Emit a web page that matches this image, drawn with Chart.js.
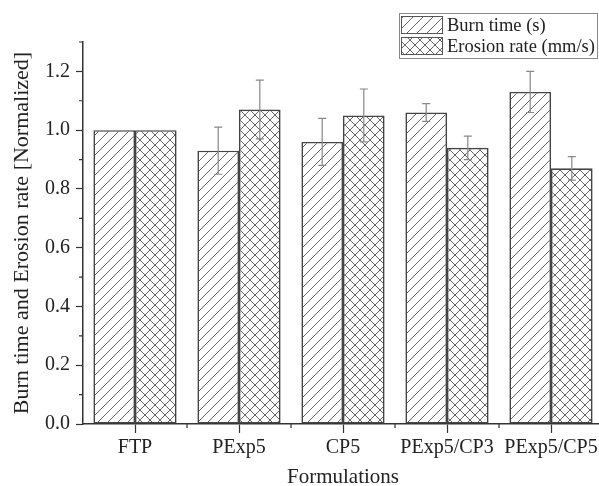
<!DOCTYPE html>
<html>
<head>
<meta charset="utf-8">
<script src="https://cdn.jsdelivr.net/npm/chart.js@4.4.1/dist/chart.umd.min.js"></script>
<style>
  html, body { margin: 0; padding: 0; background: #fff; overflow: hidden; }
  #wrap { width: 610px; height: 486px; }
</style>
</head>
<body>
<div id="wrap"><canvas id="chart" width="610" height="486"></canvas></div>
<script>
const categories = ['FTP', 'PExp5', 'CP5', 'PExp5/CP3', 'PExp5/CP5'];
const burnTime = [1.00, 0.93, 0.96, 1.06, 1.13];
const burnTimeErr = [0, 0.08, 0.08, 0.03, 0.07];
const erosionRate = [1.00, 1.07, 1.05, 0.94, 0.87];
const erosionRateErr = [0, 0.10, 0.09, 0.04, 0.04];
const yTicks = [0, 0.2, 0.4, 0.6, 0.8, 1.0, 1.2];

const serif = '"Liberation Serif", "DejaVu Serif", serif';

// hatch fills, drawn into small tiles
function makePattern(kind) {
  const size = 10;
  const c = document.createElement('canvas');
  c.width = size; c.height = size;
  const g = c.getContext('2d');
  g.fillStyle = '#fff';
  g.fillRect(0, 0, size, size);
  g.strokeStyle = '#666';
  g.lineWidth = 1;
  const slash = () => {
    g.beginPath();
    g.moveTo(-1, size + 1); g.lineTo(size + 1, -1);
    g.moveTo(-1, 1); g.lineTo(1, -1);
    g.moveTo(size - 1, size + 1); g.lineTo(size + 1, size - 1);
    g.stroke();
  };
  const back = () => {
    g.beginPath();
    g.moveTo(-1, -1); g.lineTo(size + 1, size + 1);
    g.moveTo(size - 1, -1); g.lineTo(size + 1, 1);
    g.moveTo(-1, size - 1); g.lineTo(1, size + 1);
    g.stroke();
  };
  slash();
  if (kind === 'cross') back();
  return g.createPattern(c, 'repeat');
}

const burnFill = makePattern('slash');
const erosionFill = makePattern('cross');

const errorBars = {
  id: 'errorBars',
  afterDatasetsDraw(chart) {
    const { ctx } = chart;
    const y = chart.scales.y;
    chart.data.datasets.forEach((ds, di) => {
      const meta = chart.getDatasetMeta(di);
      meta.data.forEach((bar, i) => {
        const err = ds.errors[i];
        if (!err) return;
        const v = ds.data[i];
        const top = y.getPixelForValue(v + err);
        const bot = y.getPixelForValue(v - err);
        ctx.save();
        ctx.strokeStyle = '#888';
        ctx.lineWidth = 1.2;
        ctx.beginPath();
        ctx.moveTo(bar.x, top); ctx.lineTo(bar.x, bot);
        ctx.moveTo(bar.x - 4, top); ctx.lineTo(bar.x + 4, top);
        ctx.moveTo(bar.x - 4, bot); ctx.lineTo(bar.x + 4, bot);
        ctx.stroke();
        ctx.restore();
      });
    });
  }
};

const minorTicks = {
  id: 'minorTicks',
  afterDraw(chart) {
    const { ctx } = chart;
    const x = chart.scales.x, y = chart.scales.y;
    ctx.save();
    ctx.strokeStyle = '#333';
    ctx.lineWidth = 1.2;
    ctx.beginPath();
    for (let i = 0; i < yTicks.length; i++) {
      const py = y.getPixelForValue(yTicks[i] + 0.1);
      ctx.moveTo(y.right - 4, py); ctx.lineTo(y.right, py);
    }
    for (let i = 1; i < categories.length; i++) {
      const px = (x.getPixelForValue(i - 1) + x.getPixelForValue(i)) / 2;
      ctx.moveTo(px, x.top); ctx.lineTo(px, x.top + 4);
    }
    ctx.stroke();
    ctx.restore();
  }
};

const boxLegend = {
  id: 'boxLegend',
  afterDraw(chart) {
    const { ctx } = chart;
    ctx.save();
    ctx.strokeStyle = '#888';
    ctx.lineWidth = 1;
    ctx.strokeRect(399.5, 13.5, 198, 45);
    ctx.font = '18.5px ' + serif;
    ctx.textBaseline = 'middle';
    chart.data.datasets.forEach((ds, i) => {
      const top = 16 + i * 21;
      ctx.fillStyle = ds.backgroundColor;
      ctx.fillRect(401, top, 42, 18);
      ctx.strokeStyle = '#555';
      ctx.strokeRect(401.5, top + 0.5, 41, 17);
      ctx.fillStyle = '#222';
      ctx.fillText(ds.label, 447, top + 10);
    });
    ctx.restore();
  }
};

new Chart(document.getElementById('chart'), {
  type: 'bar',
  data: {
    labels: categories,
    datasets: [
      {
        label: 'Burn time (s)',
        data: burnTime,
        errors: burnTimeErr,
        backgroundColor: burnFill,
        borderColor: '#444',
        borderWidth: 1.6,
        borderSkipped: false
      },
      {
        label: 'Erosion rate (mm/s)',
        data: erosionRate,
        errors: erosionRateErr,
        backgroundColor: erosionFill,
        borderColor: '#444',
        borderWidth: 1.6,
        borderSkipped: false
      }
    ]
  },
  options: {
    responsive: false,
    animation: false,
    layout: { padding: { top: 42, right: 7, left: 0, bottom: 0 } },
    datasets: { bar: { categoryPercentage: 0.8, barPercentage: 1.0 } },
    plugins: {
      legend: { display: false },
      tooltip: { enabled: false }
    },
    scales: {
      x: {
        afterFit(s) { s.height = 62; },
        grid: {
          offset: false,
          drawOnChartArea: false,
          tickLength: 9,
          tickColor: '#333',
          tickWidth: 1.2
        },
        border: { color: '#333', width: 1.5 },
        ticks: {
          color: '#222',
          padding: 3,
          maxRotation: 0,
          autoSkip: false,
          font: { family: serif, size: 20 }
        },
        title: {
          display: true,
          text: 'Formulations',
          color: '#222',
          padding: { top: 4, bottom: -4 },
          font: { family: serif, size: 21 }
        }
      },
      y: {
        min: 0,
        max: 1.3,
        afterFit(s) { s.width = 83; },
        afterBuildTicks(s) { s.ticks = yTicks.map(v => ({ value: v })); },
        grid: {
          drawOnChartArea: false,
          tickLength: 7,
          tickColor: '#333',
          tickWidth: 1.2
        },
        border: { color: '#333', width: 1.5 },
        ticks: {
          color: '#222',
          padding: 6,
          font: { family: serif, size: 20 },
          callback: v => v.toFixed(1)
        },
        title: {
          display: true,
          text: 'Burn time and Erosion rate [Normalized]',
          color: '#222',
          padding: { top: 9, bottom: 0 },
          font: { family: serif, size: 22 }
        }
      }
    }
  },
  plugins: [errorBars, minorTicks, boxLegend]
});
</script>
</body>
</html>
